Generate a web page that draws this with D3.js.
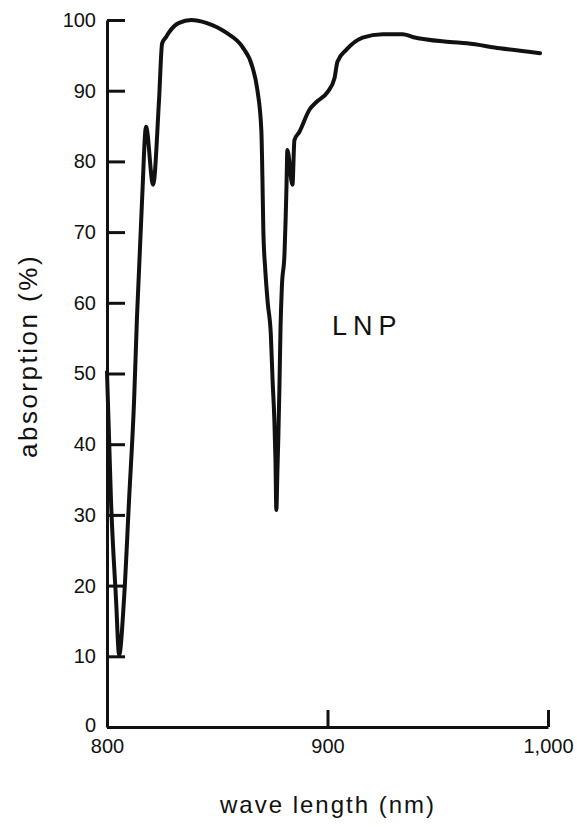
<!DOCTYPE html>
<html>
<head>
<meta charset="utf-8">
<script src="https://cdn.jsdelivr.net/npm/d3@7"></script>
<style>
  html, body { margin: 0; padding: 0; background: #fff; }
  svg { display: block; }
  text { font-family: "Liberation Sans", Arial, Helvetica, sans-serif; fill: #111; }
</style>
</head>
<body>
<svg id="chart" width="577" height="827"></svg>
<script>
// Absorption spectrum of LNP, 800–1000 nm
const wavelength = [
  800.0, 801.8, 804.1, 805.5, 807.7, 810.0, 812.3, 813.6, 815.9, 817.7,
  820.9, 823.6, 825.0, 826.8, 828.2, 832.7, 838.2, 845.0, 854.1, 861.4,
  865.9, 868.2, 870.0, 870.5, 870.9, 871.8, 872.9, 874.3, 875.1, 875.9,
  876.4, 876.8, 877.3, 877.7, 878.2, 878.7, 879.3, 880.5, 881.0, 881.4,
  881.8, 884.1, 885.0, 887.3, 891.8, 895.0, 900.0, 903.2, 904.5, 908.6,
  915.9, 925.0, 934.1, 938.6, 955.5, 963.2, 978.2, 996.4
];
const absorption = [
  50.2, 32.1, 18.0, 10.2, 18.0, 32.1, 46.3, 58.0, 74.5, 84.9,
  76.7, 88.7, 96.7, 97.6, 98.3, 99.6, 100.0, 99.6, 98.2, 96.2,
  93.4, 90.1, 84.4, 77.4, 70.3, 64.6, 60.0, 55.5, 49.0, 43.4,
  37.8, 30.7, 36.4, 41.0, 48.1, 56.5, 62.2, 67.0, 71.7, 76.4,
  81.6, 76.7, 83.0, 84.2, 87.3, 88.4, 89.8, 91.8, 94.1, 95.8,
  97.5, 98.0, 98.0, 97.6, 96.9, 96.7, 96.0, 95.3
];
const yTicks = [0, 10, 20, 30, 40, 50, 60, 70, 80, 90, 100];
const xTicks = [800, 900, 1000];
const xTickLabels = ["800", "900", "1,000"];
const seriesLabel = "LNP";
const xTitle = "wave length (nm)";
const yTitle = "absorption  (%)";

const svg = d3.select("#chart");
const ink = "#111";

const x = d3.scaleLinear().domain([800, 1000]).range([107, 548]);
const y = d3.scaleLinear().domain([0, 100]).range([727, 20]);

// y axis: ticks point inward, labels on the left
const yAxis = d3.axisLeft(y)
  .tickValues(yTicks)
  .tickSizeInner(-18)
  .tickSizeOuter(0)
  .tickPadding(11)
  .tickFormat(d3.format("d"));

const gy = svg.append("g")
  .attr("transform", `translate(${x(800)},0)`)
  .call(yAxis);

// x axis: ticks point upward, labels below
const xAxis = d3.axisBottom(x)
  .tickValues(xTicks)
  .tickSizeInner(-17)
  .tickSizeOuter(0)
  .tickPadding(12)
  .tickFormat((d, i) => xTickLabels[i]);

const gx = svg.append("g")
  .attr("transform", `translate(0,${y(0)})`)
  .call(xAxis);

[gx, gy].forEach(g => {
  g.select(".domain").attr("stroke", ink).attr("stroke-width", 3);
  g.selectAll(".tick line").attr("stroke", ink).attr("stroke-width", 3);
  g.selectAll(".tick text")
    .attr("fill", ink)
    .style("font-size", "20px")
    .style("font-family", "'Liberation Sans', Arial, Helvetica, sans-serif");
});
// the 800 tick sits on the y axis
gx.selectAll(".tick").filter(d => d === 800).select("line").remove();
// lift the 0 label clear of the 800 label
gy.selectAll(".tick").filter(d => d === 0).select("text").attr("dy", "0.2em");

// spectrum curve
const pts = wavelength.map((w, i) => [w, absorption[i]]);
const line = d3.line()
  .x(d => x(d[0]))
  .y(d => y(d[1]))
  .curve(d3.curveMonotoneX);

svg.append("path")
  .datum(pts)
  .attr("d", line)
  .attr("fill", "none")
  .attr("stroke", ink)
  .attr("stroke-width", 4)
  .attr("stroke-linejoin", "round")
  .attr("stroke-linecap", "round");

// series label
svg.append("text")
  .attr("x", 332)
  .attr("y", 335)
  .style("font-size", "27px")
  .style("letter-spacing", "6px")
  .text(seriesLabel);

// axis titles
svg.append("text")
  .attr("x", 328)
  .attr("y", 813)
  .attr("text-anchor", "middle")
  .style("font-size", "24px")
  .style("letter-spacing", "2px")
  .text(xTitle);

svg.append("text")
  .attr("transform", "translate(37,356) rotate(-90)")
  .attr("text-anchor", "middle")
  .style("font-size", "26px")
  .style("letter-spacing", "2.5px")
  .text(yTitle);
</script>
</body>
</html>
